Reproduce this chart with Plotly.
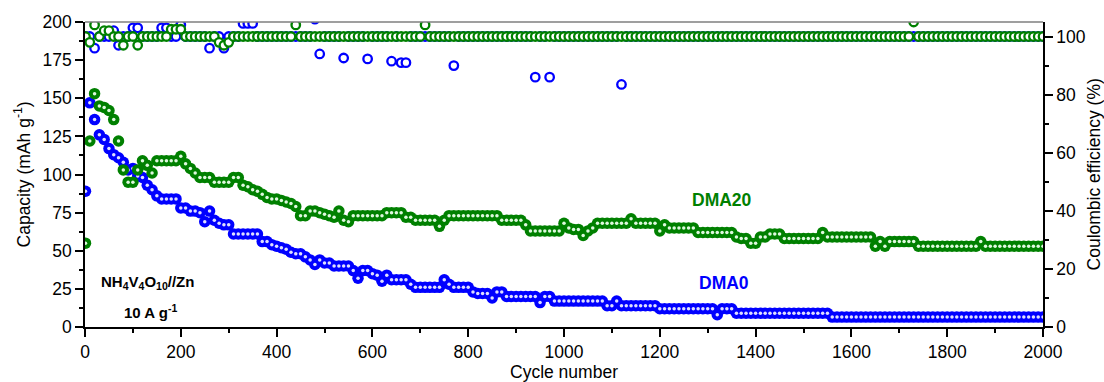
import plotly.graph_objects as go

# cycle grid (cycle 1, then every 10 cycles)
cycles = [1] + list(range(10, 2001, 10))

# Capacity (mAh g-1), DMA0
dma0_cap = [
    89, 147, 136, 126, 123, 117, 113, 111, 108, 103,
    104, 99, 98, 93, 90, 86, 84, 84, 84, 84,
    78, 78, 76, 76, 75, 69, 76, 70, 68, 67,
    67, 61, 61, 61, 61, 61, 61, 56, 56, 54,
    53, 52, 51, 49, 48, 48, 46, 44, 41, 44,
    42, 42, 40, 40, 40, 40, 37, 32, 37, 37,
    35, 34, 30, 34, 31, 31, 31, 31, 28, 26,
    26, 26, 26, 26, 26, 31, 28, 26, 26, 26,
    26, 23, 22, 22, 22, 19, 23, 23, 20, 20,
    20, 20, 20, 20, 20, 16, 20, 20, 17, 17,
    17, 17, 17, 17, 17, 17, 17, 17, 17, 14,
    14, 17, 14, 14, 14, 14, 14, 14, 14, 14,
    12, 12, 12, 12, 12, 12, 12, 12, 12, 12,
    12, 12, 8, 12, 12, 12, 9, 9, 9, 9,
    9, 9, 9, 9, 9, 9, 9, 9, 9, 9,
    9, 9, 9, 9, 9, 9, 6.5, 6.5, 6.5, 6.5,
    6.5, 6.5, 6.5, 6.5, 6.5, 6.5, 6.5, 6.5, 6.5, 6.5,
    6.5, 6.5, 6.5, 6.5, 6.5, 6.5, 6.5, 6.5, 6.5, 6.5,
    6.5, 6.5, 6.5, 6.5, 6.5, 6.5, 6.5, 6.5, 6.5, 6.5,
    6.5, 6.5, 6.5, 6.5, 6.5, 6.5, 6.5, 6.5, 6.5, 6.5,
    6.5,
]

# Capacity (mAh g-1), DMA20
dma20_cap = [
    55, 122, 153, 145, 144, 142, 136, 122, 103, 95,
    95, 103, 109, 106, 101, 109, 109, 109, 109, 109,
    112, 107, 104, 101, 98, 98, 98, 95, 95, 95,
    95, 98, 98, 93, 92, 90, 89, 87, 85, 84,
    84, 83, 82, 81, 79, 73, 73, 76, 76, 75,
    74, 73, 72, 76, 70, 69, 73, 73, 73, 73,
    73, 73, 73, 75, 75, 75, 75, 72, 72, 70,
    70, 70, 70, 70, 66, 70, 73, 73, 73, 73,
    73, 73, 73, 73, 73, 73, 73, 70, 70, 70,
    70, 70, 67, 63, 63, 63, 63, 63, 63, 63,
    68, 65, 64, 64, 60, 63, 65, 68, 68, 68,
    68, 68, 68, 68, 71, 68, 68, 68, 68, 68,
    63, 67, 65, 65, 65, 65, 65, 65, 62, 62,
    62, 62, 62, 62, 62, 62, 59, 58, 58, 55,
    55, 59, 59, 61, 61, 61, 58, 58, 58, 58,
    58, 58, 58, 58, 62, 59, 59, 59, 59, 59,
    59, 59, 59, 59, 59, 53, 56, 53, 56, 56,
    56, 56, 56, 56, 53, 53, 53, 53, 53, 53,
    53, 53, 53, 53, 53, 53, 53, 56, 53, 53,
    53, 53, 53, 53, 53, 53, 53, 53, 53, 53,
    53,
]

# Coulombic efficiency (%), DMA0
dma0_ce = [
    100, 100, 96, 100, 100, 100, 102, 97, 100, 100,
    103, 103, 100, 100, 100, 100, 103, 103, 100, 100,
    104, 100, 100, 100, 100, 100, 96, 100, 100, 96,
    100, 100, 100, 104.5, 104.5, 104.5, 100, 100, 100, 100,
    100, 100, 100, 100, 100, 100, 100, 100, 106, 94,
    100, 100, 100, 100, 92.6, 100, 100, 100, 100, 92.3,
    100, 100, 100, 100, 91.5, 100, 91, 91, 100, 100,
    100, 100, 100, 100, 100, 100, 100, 90, 100, 100,
    100, 100, 100, 100, 100, 100, 100, 100, 100, 100,
    100, 100, 100, 100, 86, 100, 100, 86, 100, 100,
    100, 100, 100, 100, 100, 100, 100, 100, 100, 100,
    100, 100, 83.5, 100, 100, 100, 100, 100, 100, 100,
    100, 100, 100, 100, 100, 100, 100, 100, 100, 100,
    100, 100, 100, 100, 100, 100, 100, 100, 100, 100,
    100, 100, 100, 100, 100, 100, 100, 100, 100, 100,
    100, 100, 100, 100, 100, 100, 100, 100, 100, 100,
    100, 100, 100, 100, 100, 100, 100, 100, 100, 100,
    100, 100, 100, 100, 100, 100, 100, 100, 100, 100,
    100, 100, 100, 100, 100, 100, 100, 100, 100, 100,
    100, 100, 100, 100, 100, 100, 100, 100, 100, 100,
    100,
]

# Coulombic efficiency (%), DMA20
dma20_ce = [
    100, 98, 104, 100, 102, 102, 100, 100, 97, 100,
    100, 97, 100, 100, 100, 100, 100, 100, 102.5, 102.5,
    102.5, 100, 100, 100, 100, 100, 100, 100, 98, 97,
    98, 100, 100, 100, 100, 100, 100, 100, 100, 100,
    100, 100, 100, 100, 104, 100, 100, 100, 100, 100,
    100, 100, 100, 100, 100, 100, 100, 100, 100, 100,
    100, 100, 100, 100, 100, 100, 100, 100, 100, 100,
    100, 104, 100, 100, 100, 100, 100, 100, 100, 100,
    100, 100, 100, 100, 100, 100, 100, 100, 100, 100,
    100, 100, 100, 100, 100, 100, 100, 100, 100, 100,
    100, 100, 100, 100, 100, 100, 100, 100, 100, 100,
    100, 100, 100, 100, 100, 100, 100, 100, 100, 100,
    100, 100, 100, 100, 100, 100, 100, 100, 100, 100,
    100, 100, 100, 100, 100, 100, 100, 100, 100, 100,
    100, 100, 100, 100, 100, 100, 100, 100, 100, 100,
    100, 100, 100, 100, 100, 100, 100, 100, 100, 100,
    100, 100, 100, 100, 100, 100, 100, 100, 100, 100,
    100, 100, 100, 105, 100, 100, 100, 100, 100, 100,
    100, 100, 100, 100, 100, 100, 100, 100, 100, 100,
    100, 100, 100, 100, 100, 100, 100, 100, 100, 100,
    100,
]

BLUE = "#0000ff"
GREEN = "#008000"
FONT = "Arial, 'Liberation Sans', sans-serif"

fig = go.Figure()

# capacity (left axis)
fig.add_trace(go.Scatter(x=cycles, y=dma0_cap, mode="markers", name="DMA0",
                         marker=dict(symbol="circle", size=11.5, color=BLUE,
                                     line=dict(width=0))))
fig.add_trace(go.Scatter(x=cycles, y=dma0_cap, mode="markers", hoverinfo="skip",
                         marker=dict(symbol="circle", size=3.5,
                                     color="rgba(235,235,255,0.95)",
                                     line=dict(width=0))))
fig.add_trace(go.Scatter(x=cycles, y=dma20_cap, mode="markers", name="DMA20",
                         marker=dict(symbol="circle", size=11.5, color=GREEN,
                                     line=dict(width=0))))
fig.add_trace(go.Scatter(x=cycles, y=dma20_cap, mode="markers", hoverinfo="skip",
                         marker=dict(symbol="circle", size=3.5,
                                     color="rgba(235,255,235,0.95)",
                                     line=dict(width=0))))

# coulombic efficiency (right axis)
fig.add_trace(go.Scatter(x=cycles, y=dma0_ce, mode="markers", yaxis="y2",
                         marker=dict(symbol="circle", size=8.5, color="white",
                                     line=dict(color=BLUE, width=2.3))))
fig.add_trace(go.Scatter(x=cycles, y=dma20_ce, mode="markers", yaxis="y2",
                         marker=dict(symbol="circle", size=8.5, color="white",
                                     line=dict(color=GREEN, width=2.3))))

axis_common = dict(showgrid=False, zeroline=False, showline=True, automargin=False,
                   linecolor="black", linewidth=1.5, ticks="outside",
                   ticklen=8, tickwidth=1.5, tickcolor="black",
                   tickfont=dict(family=FONT, size=17.5, color="black"))

fig.update_layout(
    width=1104, height=382,
    margin=dict(l=85, r=61, t=22, b=55, autoexpand=False),
    paper_bgcolor="white", plot_bgcolor="white",
    showlegend=False,
    font=dict(family=FONT, size=17.5, color="black"),
    xaxis=dict(range=[0, 2000], tick0=0, dtick=200,
               minor=dict(dtick=100, ticklen=4, ticks="outside",
                          tickcolor="black", tickwidth=1.5),
               **axis_common),
    yaxis=dict(range=[0, 200], tick0=0, dtick=25,
               minor=dict(dtick=12.5, ticklen=4, ticks="outside",
                          tickcolor="black", tickwidth=1.5),
               **axis_common),
    yaxis2=dict(overlaying="y", side="right", range=[0, 105], tick0=0, dtick=20,
                minor=dict(dtick=10, ticklen=4, ticks="outside",
                           tickcolor="black", tickwidth=1.5),
                **axis_common),
    shapes=[dict(type="line", xref="paper", yref="paper", x0=0, x1=1, y0=1, y1=1,
                 line=dict(color="#7f7f7f", width=1.5))],
    annotations=[
        # axis titles
        dict(x=0.5, y=-0.1475, xref="paper", yref="paper", showarrow=False,
             xanchor="center", yanchor="middle",
             text="Cycle number", font=dict(family=FONT, size=17.5, color="black")),
        dict(x=-0.0658, y=0.5, xref="paper", yref="paper", showarrow=False,
             xanchor="center", yanchor="middle",
             textangle=-90, text="Capacity (mAh g<sup>-1</sup>)",
             font=dict(family=FONT, size=17.5, color="black")),
        dict(x=1.0532, y=0.5, xref="paper", yref="paper", showarrow=False,
             xanchor="center", yanchor="middle",
             textangle=-90, text="Coulombic efficiency (%)",
             font=dict(family=FONT, size=17.5, color="black")),
        # labels in the plot
        dict(x=1330, y=83, xref="x", yref="y", showarrow=False,
             text="<b>DMA20</b>", font=dict(family=FONT, size=17.5, color=GREEN)),
        dict(x=1334, y=29, xref="x", yref="y", showarrow=False,
             text="<b>DMA0</b>", font=dict(family=FONT, size=17.5, color=BLUE)),
        dict(x=130, y=29, xref="x", yref="y", showarrow=False,
             text="<b>NH<sub>4</sub>V<sub>4</sub>O<sub>10</sub>//Zn</b>",
             font=dict(family=FONT, size=15, color="black")),
        dict(x=136, y=10, xref="x", yref="y", showarrow=False,
             text="<b>10 A g<sup>-1</sup></b>",
             font=dict(family=FONT, size=15, color="black")),
    ],
)

fig.write_html("out.html",
               config={"displayModeBar": False},
               post_script="document.body.style.margin='0';"
                           "document.body.style.overflow='hidden';")
